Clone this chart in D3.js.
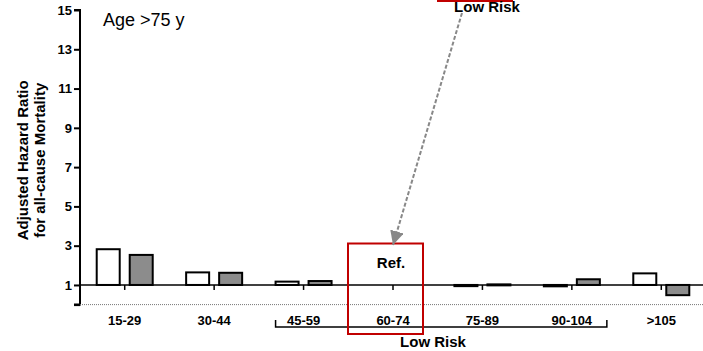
<!DOCTYPE html>
<html>
<head>
<meta charset="utf-8">
<script src="https://cdn.jsdelivr.net/npm/d3@7"></script>
<style>
  body { margin: 0; background: #fff; }
  text { font-family: Arial, "Liberation Sans", sans-serif; }
</style>
</head>
<body>
<script>
// Chart data
const categories = ['15-29', '30-44', '45-59', '60-74', '75-89', '90-104', '>105'];
const whiteValues = [2.82, 1.64, 1.17, null, 0.94, 0.93, 1.59];
const grayValues = [2.53, 1.62, 1.2, null, 1.03, 1.29, 0.48];
const yTicks = [1, 3, 5, 7, 9, 11, 13, 15];
const refCategory = '60-74';
const lowRiskGroup = ['45-59', '90-104'];

const width = 703, height = 351;

const svg = d3.select('body').append('svg')
  .attr('width', width)
  .attr('height', height);

const x = d3.scaleBand().domain(categories).range([80, 706]);
const y = d3.scaleLinear().domain([0, 15]).range([304.6, 10]);

// y axis
const yAxis = d3.axisLeft(y).tickValues([0].concat(yTicks))
  .tickSize(6).tickPadding(2)
  .tickFormat(d => d === 0 ? '' : d);
const gy = svg.append('g').attr('transform', 'translate(80,0)').call(yAxis);
gy.select('.domain').attr('stroke', '#000').attr('stroke-width', 2).attr('d', `M-6,${y(15)}H0V${y(0)}H-6`);
gy.selectAll('.tick line').attr('stroke', '#000').attr('stroke-width', 2);
gy.selectAll('.tick text')
  .attr('font-size', 13).attr('font-weight', 'bold').attr('fill', '#000')
  .attr('font-family', 'Arial, "Liberation Sans", sans-serif');

// dotted zero line
svg.append('line')
  .attr('x1', 80).attr('x2', width)
  .attr('y1', y(0)).attr('y2', y(0))
  .attr('stroke', '#777').attr('stroke-width', 1).attr('stroke-dasharray', '1,1');

// reference line at 1 with category ticks
svg.append('line')
  .attr('x1', 80).attr('x2', width)
  .attr('y1', y(1)).attr('y2', y(1))
  .attr('stroke', '#000').attr('stroke-width', 1.5);
svg.selectAll('.ctick').data(categories).enter().append('line')
  .attr('x1', d => x(d) + x.bandwidth() / 2)
  .attr('x2', d => x(d) + x.bandwidth() / 2)
  .attr('y1', y(1)).attr('y2', y(1) + 5)
  .attr('stroke', '#000').attr('stroke-width', 1.5);

// bars drawn from the value 1 baseline
const barW = 23, gap = 5;
function drawBars(values, offset, fill) {
  svg.selectAll(null)
    .data(categories.map((c, i) => ({ c, v: values[i] })).filter(d => d.v != null))
    .enter().append('rect')
    .attr('x', d => x(d.c) + x.bandwidth() / 2 + offset)
    .attr('y', d => y(Math.max(d.v, 1)))
    .attr('width', barW)
    .attr('height', d => Math.max(Math.abs(y(d.v) - y(1)), 1))
    .attr('fill', fill)
    .attr('stroke', '#000')
    .attr('stroke-width', 2);
}
drawBars(whiteValues, -gap - barW, '#fff');
drawBars(grayValues, gap, '#8c8c8c');

// x labels
svg.selectAll('.xlab').data(categories).enter().append('text')
  .attr('x', d => x(d) + x.bandwidth() / 2)
  .attr('y', 325)
  .attr('text-anchor', 'middle')
  .attr('font-size', 13).attr('font-weight', 'bold')
  .text(d => d);

// y axis title
const yt = svg.append('text')
  .attr('transform', `translate(28,${(y(0) + y(15)) / 2 + 3}) rotate(-90)`)
  .attr('text-anchor', 'middle')
  .attr('font-size', 15).attr('font-weight', 'bold');
yt.append('tspan').attr('x', 0).attr('dy', 0).text('Adjusted Hazard Ratio');
yt.append('tspan').attr('x', 0).attr('dy', 17).text('for all-cause Mortality');

// panel title
svg.append('text').attr('x', 103).attr('y', 26)
  .attr('font-size', 18).text('Age >75 y');

// low risk bracket
const bx1 = x(lowRiskGroup[0]) + x.bandwidth() / 2 - 28;
const bx2 = x(lowRiskGroup[1]) + x.bandwidth() / 2 + 35;
svg.append('path')
  .attr('d', `M${bx1},320V327H${bx2}V320`)
  .attr('fill', 'none').attr('stroke', '#000').attr('stroke-width', 1.5);
svg.append('text').attr('x', 433).attr('y', 347)
  .attr('text-anchor', 'middle').attr('font-size', 15).attr('font-weight', 'bold')
  .text('Low Risk');

// reference box
const rc = x(refCategory) + x.bandwidth() / 2;
svg.append('rect')
  .attr('x', rc - 45).attr('y', 243.5)
  .attr('width', 75).attr('height', 90.5)
  .attr('fill', 'none').attr('stroke', '#c00000').attr('stroke-width', 2);
svg.append('text').attr('x', rc - 2).attr('y', 268)
  .attr('text-anchor', 'middle').attr('font-size', 15).attr('font-weight', 'bold')
  .text('Ref.');

// top inset (cut off) and arrow
svg.append('line')
  .attr('x1', 437).attr('x2', 513).attr('y1', 0.5).attr('y2', 0.5)
  .attr('stroke', '#c00000').attr('stroke-width', 3);
svg.append('text').attr('x', 487).attr('y', 12)
  .attr('text-anchor', 'middle').attr('font-size', 15).attr('font-weight', 'bold')
  .text('Low Risk');

svg.append('defs').append('marker')
  .attr('id', 'ah').attr('viewBox', '0 0 10 10')
  .attr('refX', 10).attr('refY', 5)
  .attr('markerWidth', 14).attr('markerHeight', 14)
  .attr('markerUnits', 'userSpaceOnUse')
  .attr('orient', 'auto')
  .append('path').attr('d', 'M0,0L10,5L0,10Z').attr('fill', '#888');
svg.append('line')
  .attr('x1', 462).attr('y1', 13).attr('x2', 393).attr('y2', 245)
  .attr('stroke', '#888').attr('stroke-width', 2).attr('stroke-dasharray', '4,2')
  .attr('marker-end', 'url(#ah)');
</script>
</body>
</html>
